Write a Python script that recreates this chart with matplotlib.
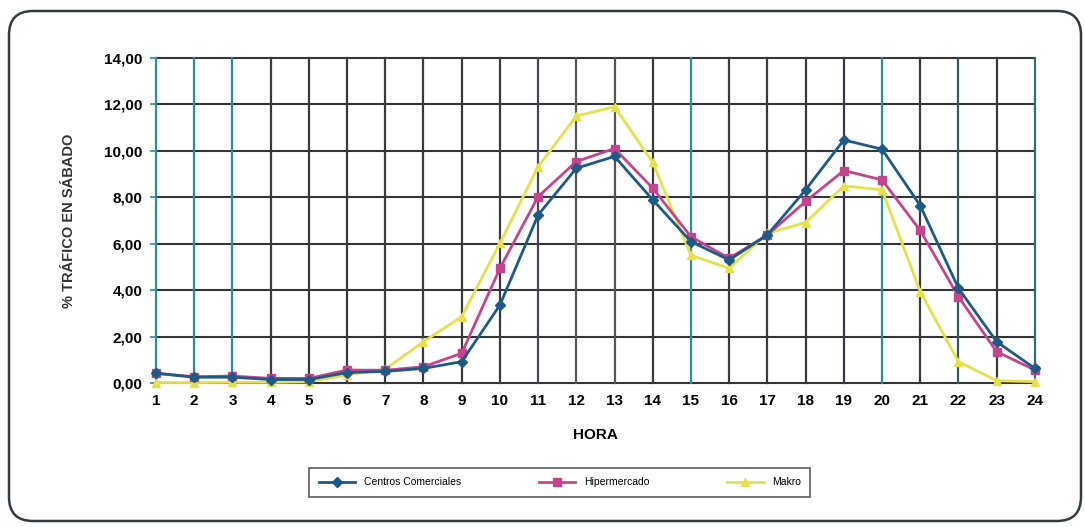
import matplotlib.pyplot as plt
import numpy as np
from matplotlib.patches import FancyBboxPatch

# ------- data
hora = list(range(1, 25))
centros = [0.42, 0.25, 0.25, 0.15, 0.15, 0.45, 0.50, 0.63, 0.92, 3.36, 7.24, 9.25,
           9.76, 7.89, 6.09, 5.30, 6.38, 8.32, 10.47, 10.07, 7.64, 4.08, 1.78, 0.63]
hiper = [0.42, 0.27, 0.30, 0.20, 0.20, 0.56, 0.55, 0.70, 1.28, 4.94, 8.03, 9.54,
         10.10, 8.39, 6.30, 5.37, 6.38, 7.82, 9.15, 8.75, 6.57, 3.72, 1.35, 0.56]
makro = [0.02, 0.02, 0.03, 0.03, 0.05, 0.35, 0.60, 1.78, 2.86, 6.02, 9.32, 11.50,
         11.90, 9.50, 5.50, 4.94, 6.45, 6.91, 8.49, 8.32, 3.94, 0.92, 0.10, 0.06]
yticks = [0, 2, 4, 6, 8, 10, 12, 14]
ytick_labels = ['0,00', '2,00', '4,00', '6,00', '8,00', '10,00', '12,00', '14,00']

# vertical grid colours, they vary in the scan
teal = '#2a8f9c'
dark = '#3a3a3a'
vcolors = [teal, teal, teal, dark, dark, dark, dark, dark, dark, dark,
           '#4a4060', '#555555', '#555555', dark, teal, dark, dark, dark,
           '#3c3458', teal, dark, '#2f5a60', dark, '#2f6f7a']

plt.rcParams['font.family'] = ['Liberation Sans', 'DejaVu Sans']

fig = plt.figure(figsize=(10.85, 5.27), dpi=100)
fig.patch.set_facecolor('white')

# rounded outer frame (inches)
frame = FancyBboxPatch((0.09, 0.06), 10.72, 5.10,
                       boxstyle='round,pad=0,rounding_size=0.24',
                       transform=fig.dpi_scale_trans, facecolor='none',
                       edgecolor='#2f3d42', linewidth=1.8)
fig.patches.append(frame)

ax = fig.add_axes([0.1438, 0.2732, 0.810, 0.6168])

# grid
for y in yticks:
    ax.axhline(y, color='#353535', lw=1.5, zorder=1, clip_on=False)
for x, c in zip(hora, vcolors):
    ax.axvline(x, color=c, lw=1.6, zorder=1, clip_on=False)

ax.plot(hora, centros, color='#1d5a86', lw=2, marker='D', ms=5,
        label='Centros Comerciales', zorder=4, clip_on=False)
ax.plot(hora, hiper, color='#c4458e', lw=2, marker='s', ms=6,
        label='Hipermercado', zorder=3, clip_on=False)
ax.plot(hora, makro, color='#e6e04a', lw=2, marker='^', ms=6,
        label='Makro', zorder=2, clip_on=False)

ax.set_xlim(1, 24)
ax.set_ylim(0, 14)
ax.set_xticks(hora)
ax.set_xticklabels([str(h) for h in hora], fontsize=11, fontweight='bold')
ax.set_yticks(yticks)
ax.set_yticklabels(ytick_labels, fontsize=11, fontweight='bold')
ax.tick_params(axis='x', length=0, pad=8)
ax.tick_params(axis='y', length=4, width=1.2, color='#2a8f9c', pad=6)
for s in ax.spines.values():
    s.set_visible(False)

ax.set_xlabel('HORA', fontsize=11, fontweight='bold', labelpad=14)
ax.set_ylabel('% TRÁFICO EN SÁBADO', fontsize=10.5, fontweight='bold',
              color='#333333', labelpad=20)

leg = fig.legend(loc='center', bbox_to_anchor=(0.516, 0.085), ncol=3,
                 fontsize=7.5, frameon=True, fancybox=False, handlelength=3.5,
                 columnspacing=7.5, borderpad=0.9)
leg.get_frame().set_edgecolor('#333333')
leg.get_frame().set_linewidth(1.2)

plt.savefig('out.png', dpi=100)
